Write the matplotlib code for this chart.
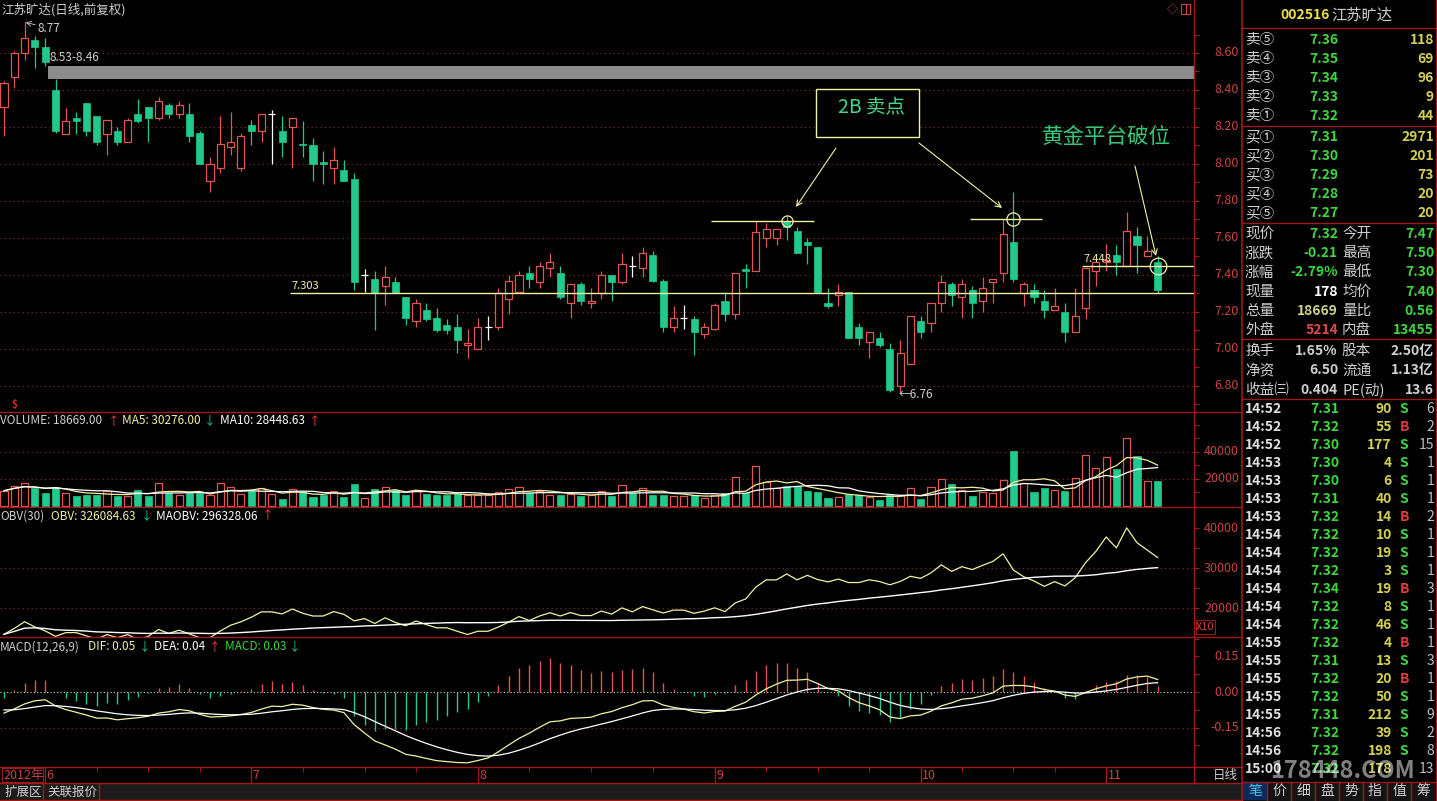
import numpy as np
import pandas as pd
import matplotlib
matplotlib.use("Agg")
import matplotlib.pyplot as plt
from matplotlib.patches import Rectangle

plt.rcParams['font.family'] = ['Noto Sans CJK SC', 'DejaVu Sans']
plt.rcParams['axes.unicode_minus'] = False

# ---- daily bars, 2012-05-28 .. 2012-11-08 ----
OPEN = [8.31, 8.47, 8.60, 8.67, 8.63, 8.40, 8.16, 8.25, 8.33, 8.26,
        8.16, 8.18, 8.12, 8.27, 8.31, 8.25, 8.32, 8.27, 8.27, 8.17,
        7.91, 7.98, 8.09, 7.98, 8.21, 8.18, 8.27, 8.18, 8.20, 8.11,
        8.10, 8.01, 7.98, 7.97, 7.92, 7.40, 7.38, 7.34, 7.36, 7.28,
        7.15, 7.21, 7.17, 7.13, 7.12, 7.02, 7.00, 7.12, 7.12, 7.27,
        7.31, 7.41, 7.36, 7.44, 7.41, 7.25, 7.35, 7.25, 7.30, 7.40,
        7.36, 7.45, 7.44, 7.51, 7.37, 7.12, 7.17, 7.16, 7.08, 7.11,
        7.26, 7.19, 7.43, 7.42, 7.60, 7.60, 7.69, 7.64, 7.58, 7.55,
        7.25, 7.29, 7.31, 7.12, 7.04, 7.06, 7.00, 6.80, 6.92, 7.15,
        7.14, 7.25, 7.35, 7.28, 7.32, 7.26, 7.36, 7.41, 7.58, 7.30,
        7.32, 7.26, 7.21, 7.20, 7.09, 7.22, 7.42, 7.47, 7.51, 7.45,
        7.61, 7.50, 7.47]
HIGH = [8.45, 8.61, 8.77, 8.69, 8.68, 8.46, 8.30, 8.28, 8.33, 8.26,
        8.24, 8.20, 8.25, 8.35, 8.31, 8.36, 8.33, 8.34, 8.33, 8.18,
        8.04, 8.26, 8.28, 8.17, 8.24, 8.27, 8.29, 8.26, 8.25, 8.23,
        8.14, 8.07, 8.09, 8.02, 7.95, 7.43, 7.42, 7.45, 7.39, 7.28,
        7.27, 7.25, 7.22, 7.16, 7.19, 7.11, 7.17, 7.18, 7.33, 7.40,
        7.42, 7.45, 7.47, 7.52, 7.45, 7.35, 7.36, 7.33, 7.42, 7.40,
        7.52, 7.50, 7.55, 7.53, 7.38, 7.23, 7.24, 7.18, 7.14, 7.25,
        7.31, 7.41, 7.46, 7.69, 7.68, 7.65, 7.72, 7.66, 7.60, 7.55,
        7.33, 7.35, 7.31, 7.14, 7.09, 7.09, 7.03, 7.05, 7.18, 7.18,
        7.25, 7.40, 7.36, 7.38, 7.34, 7.39, 7.38, 7.70, 7.85, 7.36,
        7.35, 7.32, 7.33, 7.25, 7.33, 7.44, 7.49, 7.57, 7.56, 7.74,
        7.66, 7.61, 7.50]
LOW = [8.15, 8.41, 8.56, 8.52, 8.53, 8.17, 8.16, 8.16, 8.15, 8.10,
       8.05, 8.10, 8.12, 8.22, 8.12, 8.24, 8.25, 8.25, 8.12, 8.00,
       7.85, 7.95, 8.05, 7.96, 8.10, 8.12, 8.00, 8.04, 7.98, 8.04,
       7.91, 7.89, 7.89, 7.91, 7.32, 7.31, 7.10, 7.24, 7.30, 7.13,
       7.12, 7.15, 7.09, 7.08, 6.98, 6.95, 7.00, 7.05, 7.10, 7.19,
       7.31, 7.33, 7.33, 7.39, 7.27, 7.17, 7.24, 7.22, 7.27, 7.26,
       7.35, 7.39, 7.39, 7.36, 7.09, 7.09, 7.11, 6.97, 7.06, 7.10,
       7.15, 7.16, 7.33, 7.42, 7.55, 7.56, 7.59, 7.52, 7.46, 7.31,
       7.22, 7.23, 7.06, 7.02, 6.95, 7.01, 6.77, 6.76, 6.92, 7.06,
       7.09, 7.20, 7.23, 7.17, 7.17, 7.20, 7.25, 7.36, 7.36, 7.23,
       7.25, 7.17, 7.21, 7.04, 7.09, 7.16, 7.34, 7.42, 7.40, 7.45,
       7.41, 7.50, 7.30]
CLOSE = [8.44, 8.60, 8.68, 8.63, 8.55, 8.18, 8.23, 8.23, 8.18, 8.12,
         8.24, 8.12, 8.24, 8.23, 8.25, 8.34, 8.27, 8.32, 8.15, 8.00,
         8.00, 8.11, 8.12, 8.15, 8.18, 8.27, 8.27, 8.12, 8.25, 8.10,
         8.00, 8.00, 8.02, 7.91, 7.36, 7.40, 7.30, 7.39, 7.30, 7.17,
         7.25, 7.16, 7.10, 7.10, 7.05, 7.03, 7.12, 7.12, 7.30, 7.37,
         7.40, 7.38, 7.45, 7.47, 7.28, 7.35, 7.26, 7.26, 7.40, 7.36,
         7.46, 7.45, 7.52, 7.37, 7.12, 7.17, 7.17, 7.09, 7.12, 7.24,
         7.19, 7.41, 7.42, 7.63, 7.65, 7.65, 7.66, 7.52, 7.56, 7.31,
         7.23, 7.31, 7.06, 7.06, 7.09, 7.02, 6.78, 6.98, 7.18, 7.09,
         7.25, 7.36, 7.29, 7.35, 7.25, 7.33, 7.38, 7.62, 7.38, 7.35,
         7.28, 7.21, 7.23, 7.09, 7.18, 7.44, 7.47, 7.48, 7.47, 7.64,
         7.56, 7.53, 7.32]
VOLUME = [11300, 14800, 16800, 13100, 9800, 13800, 9400, 7400, 8100, 8100,
          11300, 7600, 7400, 11800, 7400, 17300, 9800, 8100, 9400, 9400,
          8100, 16800, 14300, 8600, 11300, 13600, 8900, 5200, 12300, 10600,
          6900, 8100, 11100, 6900, 16300, 5700, 12300, 14300, 11800, 8100,
          11800, 8900, 8100, 8100, 8600, 8100, 8100, 8100, 10600, 12300,
          13800, 9800, 11300, 8100, 8100, 8600, 7600, 8100, 11300, 7600,
          15500, 9800, 13100, 8100, 8100, 7400, 7400, 8100, 5700, 8100,
          9400, 21700, 9800, 29800, 18000, 13100, 14800, 14800, 11300, 10600,
          5700, 6900, 8600, 8100, 6900, 4400, 8100, 8100, 13100, 5200,
          13800, 20000, 16300, 11800, 7400, 10600, 9800, 19200, 40700, 16800,
          10600, 13300, 11800, 10800, 20500, 37500, 28000, 36300, 27200, 50000,
          37000, 18500, 18669]

# month starts (bar index) and the short weekly marks on the date row
MONTH_START = [4, 24, 46, 69, 89, 107]
MONTH_LABELS = ['6', '7', '8', '9', '10', '11']
WEEK_MARKS = [9, 14, 19, 29, 35, 40, 51, 57, 63, 74, 79, 84, 93, 98, 102]

# annotated levels
BAND_LO, BAND_HI = 8.46, 8.53
SUPPORT = 7.303
PLATFORM = 7.448
TOP_2B = [(76, 7.69), (98, 7.70)]

# indicator state at the first bar and the closing values in the headers
MACD_EMA26_START = 8.55
MACD_DIF_START = -0.089
MACD_DEA_START = -0.076
OBV_LAST = 326084.63

# order book / quote panel
SELL_LABELS = ['卖⑤', '卖④', '卖③', '卖②', '卖①']
SELL_PRICES = [7.36, 7.35, 7.34, 7.33, 7.32]
SELL_VOLS = [118, 69, 96, 9, 44]
BUY_LABELS = ['买①', '买②', '买③', '买④', '买⑤']
BUY_PRICES = [7.31, 7.30, 7.29, 7.28, 7.27]
BUY_VOLS = [2971, 201, 73, 20, 20]

TRADE_TIMES = ['14:52', '14:52', '14:52', '14:53', '14:53', '14:53', '14:53',
               '14:54', '14:54', '14:54', '14:54', '14:54', '14:54', '14:55',
               '14:55', '14:55', '14:55', '14:55', '14:56', '14:56', '15:00']
TRADE_PRICES = [7.31, 7.32, 7.30, 7.30, 7.30, 7.31, 7.32, 7.32, 7.32, 7.32, 7.34,
                7.32, 7.32, 7.32, 7.31, 7.32, 7.32, 7.31, 7.32, 7.32, 7.32]
TRADE_VOLS = [90, 55, 177, 4, 6, 40, 14, 10, 19, 3, 19, 8, 46, 4, 13, 20, 50,
              212, 39, 198, 178]
TRADE_SIDES = ['S', 'B', 'S', 'S', 'S', 'S', 'B', 'S', 'S', 'S', 'B', 'S', 'S',
               'B', 'S', 'B', 'S', 'S', 'S', 'S', '']
TRADE_COUNTS = [6, 2, 15, 1, 1, 1, 2, 1, 1, 1, 3, 1, 1, 1, 3, 1, 1, 9, 2, 8, 13]

# ---- colours ----
BG = '#000000'
FRAME = '#a01818'
AXTXT = '#c84444'
GRID = '#8a3020'
UPC = '#e05454'
DNC = '#22c98c'
YEL = '#f2f2a2'
TXT = '#cfcfcf'
QGREEN = '#3ed63e'
QYEL = '#d4cf52'

W, H = 1437, 801
AXIS_X = 1194          # pixel x of the price/indicator axis line
X0_PX, STEP_PX = 4.0, 10.3

o = np.array(OPEN); h = np.array(HIGH); l = np.array(LOW); c = np.array(CLOSE)
v = np.array(VOLUME, dtype=float)
n = len(c)
x = np.arange(n)
XLIM = (-X0_PX / STEP_PX, (AXIS_X - X0_PX) / STEP_PX)


def rect(x0, y0, x1, y1):
    return [x0 / W, 1 - y1 / H, (x1 - x0) / W, (y1 - y0) / H]


def panel(fig, y0, y1, ylim):
    ax = fig.add_axes(rect(0, y0, AXIS_X, y1))
    ax.set_facecolor(BG)
    ax.set_xlim(XLIM)
    ax.set_ylim(ylim)
    for s in ax.spines.values():
        s.set_visible(False)
    ax.tick_params(left=False, bottom=False, labelleft=False, labelbottom=False)
    return ax


def dotted(ax, levels, color=GRID):
    for lv in levels:
        ax.axhline(lv, color=color, lw=0.8, ls=(0, (1, 3)), zorder=0)


def right_labels(ax, values, fmt, ticks_minor=()):
    tr = ax.get_yaxis_transform()
    for val in values:
        ax.text(1239 / AXIS_X, val, fmt.format(val), transform=tr, ha='right',
                va='center', color=AXTXT, fontsize=9, clip_on=False)
    ticks = list(values) + list(ticks_minor)
    ax.hlines(ticks, 1.0, 1.0 + 5 / AXIS_X, transform=tr, color=FRAME, lw=0.8,
              clip_on=False)


fig = plt.figure(figsize=(W / 100, H / 100), dpi=100, facecolor=BG)

# ---- price panel ----
ax_p = panel(fig, 0, 412, (8.6 - 412 / 185 + 53 / 185, 8.6 + 53 / 185))
dotted(ax_p, np.arange(6.8, 8.61, 0.2))
ax_p.add_patch(Rectangle((4.3, BAND_LO), XLIM[1] - 4.3, BAND_HI - BAND_LO,
                         color='#8c8c8c', lw=0, zorder=1))

up = c > o + 1e-9
dn = c < o - 1e-9
fl = ~(up | dn)
bw = 0.68
ax_p.vlines(x[dn], l[dn], h[dn], color=DNC, lw=0.9, zorder=2)
ax_p.bar(x[dn], (o - c)[dn], bottom=c[dn], width=bw, color=DNC,
         edgecolor=DNC, lw=0.5, zorder=3)
ax_p.vlines(x[up], c[up], h[up], color=UPC, lw=0.9, zorder=2)
ax_p.vlines(x[up], l[up], o[up], color=UPC, lw=0.9, zorder=2)
ax_p.bar(x[up], (c - o)[up], bottom=o[up], width=bw, facecolor=BG,
         edgecolor=UPC, lw=0.9, zorder=3)
ax_p.vlines(x[fl], l[fl], h[fl], color='white', lw=0.9, zorder=3)
ax_p.hlines(c[fl], x[fl] - bw / 2, x[fl] + bw / 2, color='white', lw=0.9, zorder=3)

# support / platform lines and the two 2B tops
ax_p.hlines(SUPPORT, 27.8, XLIM[1], color=YEL, lw=1.0, zorder=4)
ax_p.text(27.9, SUPPORT + 0.012, f'{SUPPORT:.3f}', color=YEL, fontsize=8,
          va='bottom', ha='left')
ax_p.hlines(PLATFORM, 104.7, XLIM[1], color=YEL, lw=1.0, zorder=4)
ax_p.text(104.8, PLATFORM + 0.012, f'{PLATFORM:.3f}', color=YEL, fontsize=8,
          va='bottom', ha='left')
ax_p.hlines(TOP_2B[0][1], 68.6, 78.6, color=YEL, lw=1.0, zorder=4)
ax_p.hlines(TOP_2B[1][1], 93.8, 100.8, color=YEL, lw=1.0, zorder=4)
ax_p.plot([TOP_2B[0][0]], [TOP_2B[0][1]], 'o', ms=8, mfc='none', mec=YEL, mew=0.9, zorder=5)
ax_p.plot([TOP_2B[1][0]], [TOP_2B[1][1]], 'o', ms=9.5, mfc='none', mec=YEL, mew=0.9, zorder=5)
ax_p.plot([n - 1], [PLATFORM], 'o', ms=12, mfc='none', mec=YEL, mew=0.9, zorder=5)

# high / low tags
i_hi = int(np.argmax(h)); i_lo = int(np.argmin(l))
ax_p.annotate(f'{h[i_hi]:.2f}', xy=(i_hi + 0.1, h[i_hi] - 0.005),
              xytext=(i_hi + 1.3, h[i_hi] - 0.035), color=TXT, fontsize=8.5,
              va='center', arrowprops=dict(arrowstyle='->', color=TXT, lw=0.6,
                                           shrinkA=0, shrinkB=0))
ax_p.text(4.4, BAND_HI + 0.045, f'{BAND_HI:.2f}-{BAND_LO:.2f}', color=TXT,
          fontsize=8.5, va='center')
ax_p.text(i_lo - 0.1, l[i_lo] - 0.005, f'←{l[i_lo]:.2f}', color=TXT,
          fontsize=8.5, va='center', ha='left')
right_labels(ax_p, np.round(np.arange(6.8, 8.61, 0.2), 2), '{:.2f}',
             np.round(np.arange(6.7, 8.81, 0.2), 2))

# ---- volume panel ----
ax_v = panel(fig, 412, 507, (-740, 94 * 740))
dotted(ax_v, [20000, 40000])
prev = np.r_[c[0], c[:-1]]
vol_up = up | (fl & (c >= prev))
ax_v.bar(x[~vol_up], v[~vol_up], width=bw, color=DNC, edgecolor=DNC, lw=0.5, zorder=2)
ax_v.bar(x[vol_up], v[vol_up], width=bw, facecolor=BG, edgecolor=UPC, lw=0.9, zorder=2)
vs = pd.Series(v)
ma5 = vs.rolling(5, min_periods=1).mean()
ma10 = vs.rolling(10, min_periods=1).mean()
ax_v.plot(x, ma5, color=YEL, lw=0.9, zorder=3)
ax_v.plot(x, ma10, color='white', lw=0.9, zorder=3)
right_labels(ax_v, [20000, 40000], '{:.0f}', [10000, 30000, 50000, 60000])

# ---- OBV panel (shown in units of 10) ----
ax_o = panel(fig, 507, 637, (12750, 45250))
dotted(ax_o, [20000, 30000])
signed = np.r_[0, np.sign(np.diff(c)) * v[1:]]
obv = np.cumsum(signed)
obv = obv - obv[-1] + OBV_LAST
maobv = pd.Series(obv).rolling(30, min_periods=1).mean()
ax_o.plot(x, obv / 10, color=YEL, lw=0.9)
ax_o.plot(x, maobv / 10, color='white', lw=1.0)
right_labels(ax_o, [20000, 30000, 40000], '{:.0f}', [15000, 25000, 35000])

# ---- MACD panel ----
ax_m = panel(fig, 637, 767, (-(767 - 692) / 236.7, (692 - 637) / 236.7))
dotted(ax_m, [-0.15])
ax_m.axhline(0, color='#d8d8d8', lw=0.8, ls=(0, (1, 2)), zorder=0)
ema26 = MACD_EMA26_START
ema12 = ema26 + MACD_DIF_START
dea = MACD_DEA_START
dif_s, dea_s = [MACD_DIF_START], [dea]
for px in c[1:]:
    ema12 = ema12 + 2 / 13 * (px - ema12)
    ema26 = ema26 + 2 / 27 * (px - ema26)
    d = ema12 - ema26
    dea = dea + 2 / 10 * (d - dea)
    dif_s.append(d); dea_s.append(dea)
dif_s = np.array(dif_s); dea_s = np.array(dea_s)
hist = 2 * (dif_s - dea_s)
ax_m.vlines(x, 0, hist, colors=np.where(hist >= 0, UPC, DNC), lw=1.0, zorder=1)
ax_m.plot(x, dif_s, color=YEL, lw=0.9, zorder=2)
ax_m.plot(x, dea_s, color='white', lw=0.9, zorder=2)
right_labels(ax_m, [-0.15, 0.0, 0.15], '{:.2f}', [-0.225, -0.075, 0.075, 0.225])

# ---- date row ----
ax_d = panel(fig, 767, 783, (0, 1))
for i, lab in zip(MONTH_START, MONTH_LABELS):
    ax_d.axvline(i, color=FRAME, lw=1.0)
    ax_d.text(i + 0.15, 0.45, lab, color=AXTXT, fontsize=9, va='center')
ax_d.vlines(WEEK_MARKS, 0.7, 1.0, color=FRAME, lw=0.8)

# ---- overlay in pixel space: frames, headers, right-hand quote panel ----
ov = fig.add_axes([0, 0, 1, 1], zorder=10)
ov.set_xlim(0, W)
ov.set_ylim(H, 0)
ov.axis('off')
ov.patch.set_alpha(0)

def T(px, py, s, color=TXT, size=9, ha='left', weight='normal', **kw):
    ov.text(px, py, s, color=color, fontsize=size, ha=ha, va='center',
            fontweight=weight, **kw)

# bottom tab strip
ov.add_patch(Rectangle((0, 783), 1242, 18, color='#1c1c1c', lw=0))
ov.add_patch(Rectangle((1242, 782), 195, 19, color='#141414', lw=0))
ov.add_patch(Rectangle((1243, 782), 24, 18, color='#0c2a5c', lw=0))

for yy in [412, 507, 637, 767, 783, 800]:
    ov.plot([0, 1242], [yy, yy], color=FRAME, lw=1.0)
ov.plot([AXIS_X, AXIS_X], [0, 783], color=FRAME, lw=1.0)
ov.plot([1242, 1242], [0, 801], color=FRAME, lw=1.2)
ov.plot([1436, 1436], [0, 801], color=FRAME, lw=1.0)
for yy in [28, 126, 223, 339, 399, 782]:
    ov.plot([1242, 1437], [yy, yy], color=FRAME, lw=1.0)
ov.plot([2, 43, 43, 2, 2], [768, 768, 782, 782, 768], color=FRAME, lw=0.8)
for xx in [43, 99]:
    ov.plot([xx, xx], [783, 800], color=FRAME, lw=1.0)

# chart headers
T(1, 10, '江苏旷达(日线,前复权)', size=9)
T(1172, 9, '◇', color=AXTXT, size=8, ha='center')
ov.add_patch(Rectangle((1181, 4), 9, 10, fill=False, ec=AXTXT, lw=0.8))
ov.plot([1185.5, 1185.5], [4, 14], color=AXTXT, lw=0.8)
T(14, 405, '$', color='#e03030', size=7, ha='center', weight='bold')

T(0, 421, 'VOLUME: 18669.00', size=8.5)
T(108, 421, '↑', color='#ff4040', size=8.5)
T(122, 421, 'MA5: 30276.00', color=YEL, size=8.5)
T(204, 421, '↓', color=DNC, size=8.5)
T(220, 421, 'MA10: 28448.63', color='white', size=8.5)
T(309, 421, '↑', color='#ff4040', size=8.5)

T(0, 516, 'OBV(30)', size=8.5)
T(51, 516, 'OBV: 326084.63', color=YEL, size=8.5)
T(141, 516, '↓', color=DNC, size=8.5)
T(156, 516, 'MAOBV: 296328.06', color='white', size=8.5)
T(262, 516, '↑', color='#ff4040', size=8.5)
ov.add_patch(Rectangle((1196, 620), 19, 14, fill=False, ec=FRAME, lw=0.8))
T(1205.5, 627, 'X10', color=AXTXT, size=8, ha='center')

T(0, 647, 'MACD(12,26,9)', size=8.5)
T(88, 647, 'DIF: 0.05', color=YEL, size=8.5)
T(139, 647, '↓', color=DNC, size=8.5)
T(154, 647, 'DEA: 0.04', color='white', size=8.5)
T(209, 647, '↑', color='#ff4040', size=8.5)
T(225, 647, 'MACD: 0.03', color=QGREEN, size=8.5)
T(289, 647, '↓', color=DNC, size=8.5)

T(3, 775, '2012年', color=AXTXT, size=9)
T(1213, 775, '日线', size=9)
T(4, 792, '扩展区', size=9)
T(47, 792, '关联报价', size=9)

# trade idea annotations
ov.add_patch(Rectangle((816, 89), 103, 48, facecolor=BG, edgecolor=YEL, lw=1.0))
T(871, 108, '2B 卖点', color='#46d888', size=14, ha='center')
T(1106, 137, '黄金平台破位', color='#34c878', size=15.5, ha='center')
for (xa, ya), (xb, yb) in [((836, 148), (796, 207)), ((919, 143), (1002, 208)),
                           ((1135, 166), (1156, 256))]:
    ov.annotate('', xy=(xb, yb), xytext=(xa, ya),
                arrowprops=dict(arrowstyle='->', color=YEL, lw=0.8,
                                mutation_scale=10, shrinkA=0, shrinkB=0))

# quote panel
T(1280, 15, '002516', color='#f0e040', size=10, weight='bold')
T(1331, 15, '江苏旷达', color=TXT, size=11)
for k, (lab, pr, vo) in enumerate(zip(SELL_LABELS, SELL_PRICES, SELL_VOLS)):
    yy = 40 + k * 19
    T(1245, yy, lab, size=10.5)
    T(1338, yy, f'{pr:.2f}', color=QGREEN, size=10, ha='right', weight='bold')
    T(1434, yy, f'{vo}', color=QYEL, size=10, ha='right', weight='bold')
for k, (lab, pr, vo) in enumerate(zip(BUY_LABELS, BUY_PRICES, BUY_VOLS)):
    yy = 137 + k * 19
    T(1245, yy, lab, size=10.5)
    T(1338, yy, f'{pr:.2f}', color=QGREEN, size=10, ha='right', weight='bold')
    T(1434, yy, f'{vo}', color=QYEL, size=10, ha='right', weight='bold')

QUOTE_ROWS = [
    ('现价', '7.32', QGREEN, '今开', '7.47', QGREEN),
    ('涨跌', '-0.21', QGREEN, '最高', '7.50', QGREEN),
    ('涨幅', '-2.79%', QGREEN, '最低', '7.30', QGREEN),
    ('现量', '178', 'white', '均价', '7.40', QGREEN),
    ('总量', '18669', '#cfcf8a', '量比', '0.56', QGREEN),
    ('外盘', '5214', '#e04848', '内盘', '13455', QGREEN),
    ('换手', '1.65%', TXT, '股本', '2.50亿', TXT),
    ('净资', '6.50', TXT, '流通', '1.13亿', TXT),
    ('收益㈢', '0.404', TXT, 'PE(动)', '13.6', TXT),
]
for k, (l1, v1, c1, l2, v2, c2) in enumerate(QUOTE_ROWS):
    yy = 234 + k * 19.2 + (2 if k >= 6 else 0)
    T(1245, yy, l1, size=10.5)
    T(1338, yy, v1, color=c1, size=10, ha='right', weight='bold')
    T(1342, yy, l2, size=10.5)
    T(1434, yy, v2, color=c2, size=10, ha='right', weight='bold')

for k in range(len(TRADE_TIMES)):
    yy = 409 + k * 18
    T(1245, yy, TRADE_TIMES[k], color='#e0e0e0', size=10, weight='bold')
    T(1339, yy, f'{TRADE_PRICES[k]:.2f}', color=QGREEN, size=10, ha='right', weight='bold')
    T(1392, yy, f'{TRADE_VOLS[k]}', color=QYEL, size=10, ha='right', weight='bold')
    side = TRADE_SIDES[k]
    T(1404, yy, side, color=QGREEN if side == 'S' else '#e03c3c', size=10,
      ha='center', weight='bold')
    T(1434, yy, f'{TRADE_COUNTS[k]}', color='#bdbdbd', size=10, ha='right')
# site watermark laid over the last trade row
T(1342, 771, '178448.COM', color='white', size=17, ha='center', weight='bold',
  alpha=0.5)

TABS = ['笔', '价', '细', '盘', '势', '指', '值', '筹']
for k, tab in enumerate(TABS):
    T(1255 + k * 24, 791, tab, color='#44c8ea' if k == 0 else TXT, size=10,
      ha='center')
    if k:
        ov.plot([1243 + k * 24, 1243 + k * 24], [782, 800], color=FRAME, lw=1.0)

fig.savefig('out.png', dpi=100, facecolor=BG)
